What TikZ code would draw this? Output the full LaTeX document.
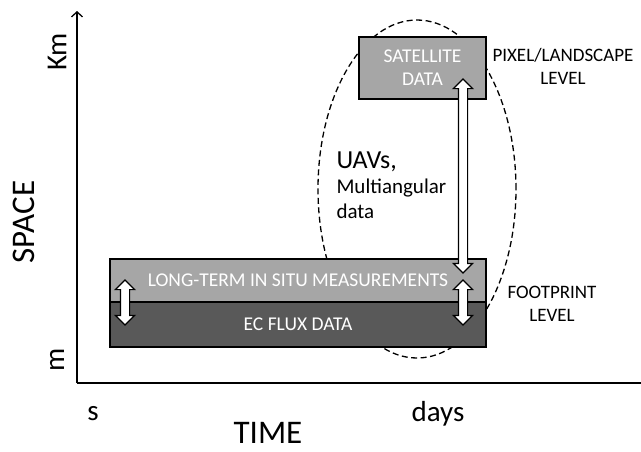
\documentclass[tikz,border=0pt]{standalone}
\usepackage{fontspec}
\setmainfont{Carlito}
\usepackage{tikz}
\usetikzlibrary{arrows, arrows.meta, shapes.geometric, shapes.arrows}
\definecolor{lightbox}{HTML}{A6A6A6}
\definecolor{darkbox}{HTML}{595959}
\tikzstyle{databox} = [rectangle, draw=black, line width=1.2pt, text=white, inner sep=0pt, align=center, font=\fontsize{19.5}{23}\selectfont]
\tikzstyle{dblarrow} = [double arrow, draw=black, line width=1.2pt, fill=white, rotate=90, inner xsep=0pt, inner ysep=4pt, double arrow head extend=5pt]
\tikzstyle{level} = [align=center, font=\fontsize{19}{23}\selectfont]
\tikzstyle{tick} = [font=\fontsize{29}{34}\selectfont]
\tikzstyle{axislabel} = [inner sep=0pt, font=\fontsize{33}{38}\selectfont]
\tikzstyle{axis} = [line width=1.3pt,-{Straight Barb[length=5pt,width=11pt]}]

\begin{document}
\begin{tikzpicture}[x=1pt, y=-1pt]
    \useasboundingbox (0,0) rectangle (641,451);
    % axes
    \coordinate (origin) at (77,383);
    \coordinate (ytop) at (77,11);
    \coordinate (xend) at (641,383);
    \draw [axis] (origin) -- (ytop);
    \draw [line width=1.3pt] (origin) -- (xend);
    \node (km) [tick, rotate=90] at (57,52) {Km};
    \node (m) [tick, rotate=90] at (57,360) {m};
    \node (space) [axislabel, rotate=90] at (24,222) {SPACE};
    \node (s) [tick] at (93,414) {s};
    \node (days) [tick] at (438,414) {days};
    \node (time) [axislabel] at (268,433) {TIME};
    % UAV ellipse
    \node (uav) [ellipse, draw=black, dash pattern=on 6pt off 3.5pt, line width=1.3pt, minimum width=198pt, minimum height=338pt] at (417,189) {};
    % data boxes
    \node (insitu) [databox, fill=lightbox, minimum width=376pt, minimum height=43pt] at (298,280.5) {LONG-TERM IN SITU MEASUREMENTS};
    \node (ecflux) [databox, fill=darkbox, minimum width=376pt, minimum height=45pt] at (298,324.5) {EC FLUX DATA};
    \node (satellite) [databox, fill=lightbox, minimum width=127pt, minimum height=62pt] at (422.5,68) {SATELLITE\\DATA};
    \node (uavtext) [align=left, anchor=west, font=\fontsize{21}{25}\selectfont] at (333,185) {{\fontsize{26}{28}\selectfont UAVs,}\\Multiangular\\data};
    % scale arrows
    \node (sat2site) [dblarrow, minimum height=194pt] at (463,176) {};
    \node (leftarrow) [dblarrow, minimum height=45pt] at (125,302.5) {};
    \node (rightarrow) [dblarrow, minimum height=45pt] at (463,302.5) {};
    % levels
    \node (pixel) [level] at (563,66) {PIXEL/LANDSCAPE\\LEVEL};
    \node (footprint) [level] at (552,304) {FOOTPRINT\\LEVEL};
\end{tikzpicture}
\end{document}
